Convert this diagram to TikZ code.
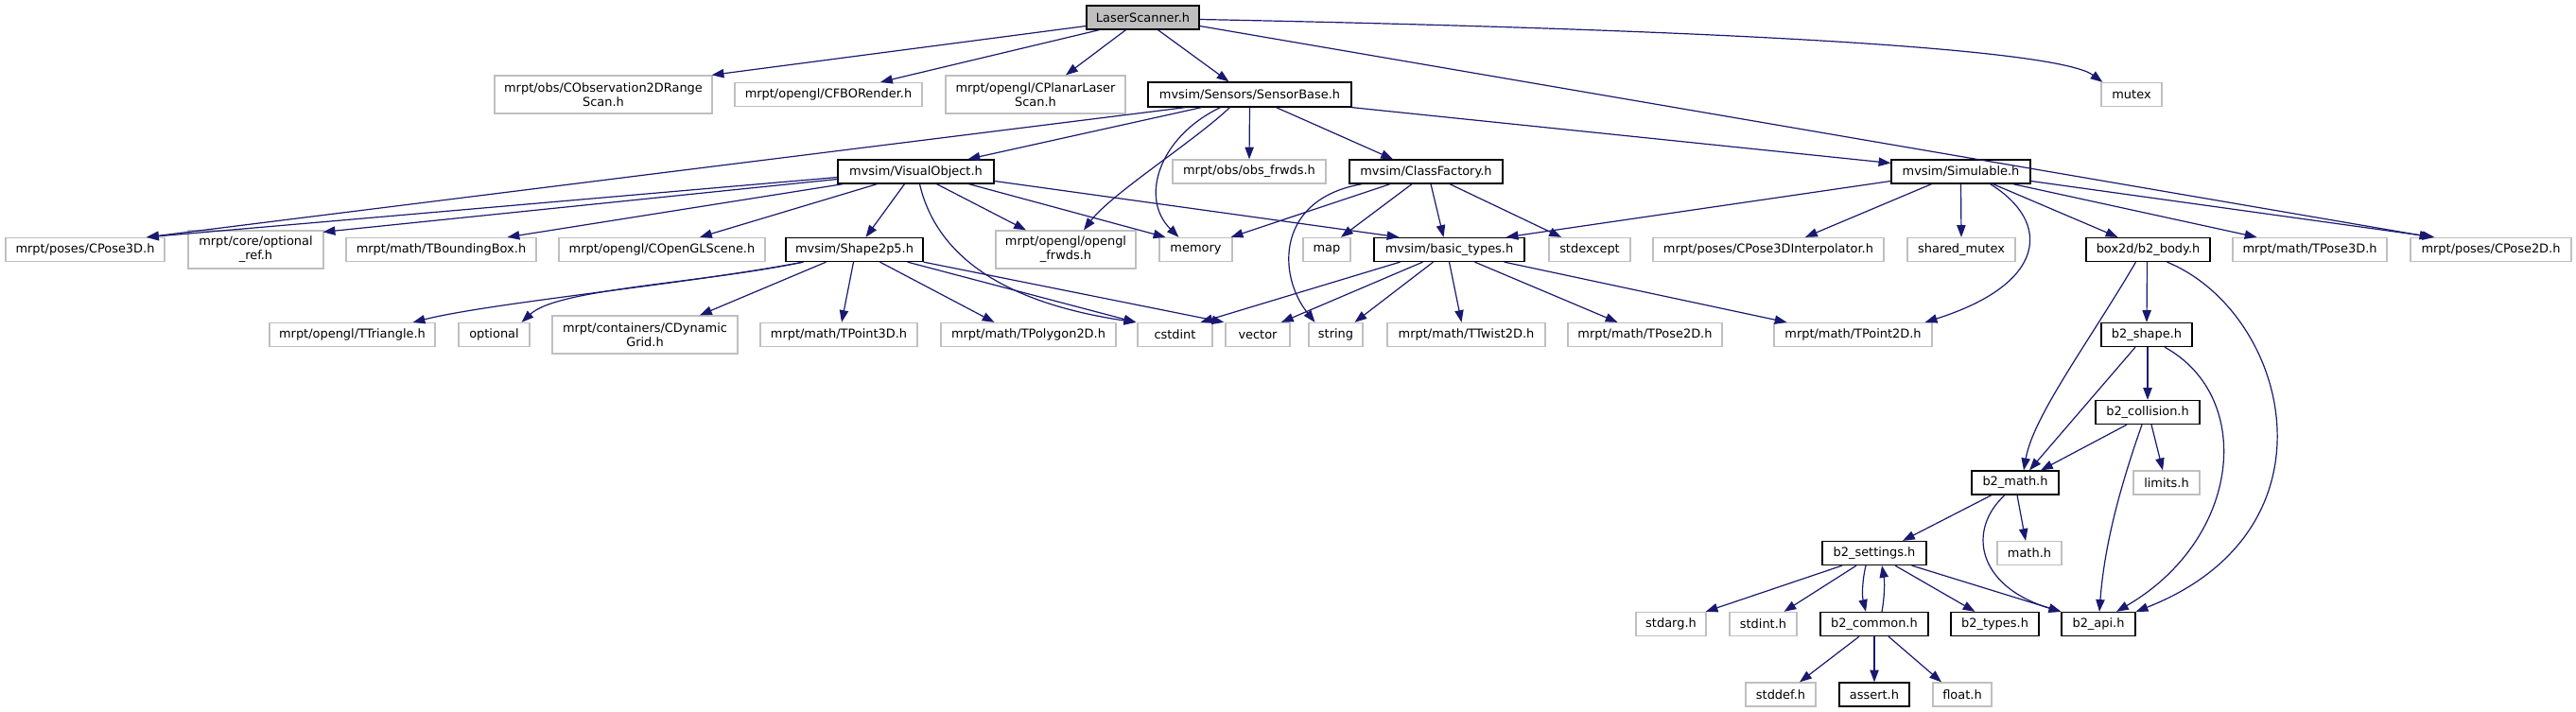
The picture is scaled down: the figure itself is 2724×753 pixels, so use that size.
\documentclass[tikz,border=0pt]{standalone}
\usepackage{fontspec}
\setmainfont{DejaVu Sans}
\usetikzlibrary{arrows.meta,calc}
\definecolor{edgeblue}{HTML}{191970}
\definecolor{greyline}{HTML}{BFBFBF}
\begin{document}
\begin{tikzpicture}[x=0.75pt,y=-0.75pt,
  nb/.style n args={2}{rectangle, inner sep=0pt, minimum width=#1*0.75pt, minimum height=#2*0.75pt,
     align=center, font=\fontsize{9.7}{11.3}\selectfont, line width=0.95pt},
  ext/.style 2 args={nb={#1}{#2}, draw=greyline},
  doc/.style 2 args={nb={#1}{#2}, draw=black},
  root/.style 2 args={nb={#1}{#2}, draw=black, fill=greyline},
  dep/.style={draw=edgeblue, line width=0.9pt, -{Triangle[length=9.6pt,width=7pt]}}]
\useasboundingbox (0,0) rectangle (2724,753);
% rank 0
\node[root={119}{25}] (LS) at (1208.5,18.5) {LaserScanner.h};
% rank 1
\node[ext={230}{40}] (CObs) at (638,100) {mrpt/obs/CObservation2DRange\\Scan.h};
\node[ext={198}{25}] (CFBO) at (876,100) {mrpt/opengl/CFBORender.h};
\node[ext={190}{40}] (CPlanar) at (1095,100) {mrpt/opengl/CPlanarLaser\\Scan.h};
\node[doc={215}{26}] (SB) at (1321.5,100) {mvsim/Sensors/SensorBase.h};
\node[ext={64}{25}] (MUTEX) at (2254,100) {mutex};
% rank 2
\node[doc={165}{25}] (VO) at (968.5,181.5) {mvsim/VisualObject.h};
\node[ext={162}{25}] (OBSF) at (1321,181.5) {mrpt/obs/obs\_frwds.h};
\node[doc={162}{25}] (CF) at (1508,181.5) {mvsim/ClassFactory.h};
\node[doc={147}{25}] (SIM) at (2073.5,181.5) {mvsim/Simulable.h};
% rank 3
\node[ext={168}{25}] (CP3) at (90,264) {mrpt/poses/CPose3D.h};
\node[ext={143}{40}] (OPTR) at (270.5,264) {mrpt/core/optional\\\_ref.h};
\node[ext={201}{25}] (TBB) at (466.5,264) {mrpt/math/TBoundingBox.h};
\node[ext={218}{25}] (COGL) at (700,264) {mrpt/opengl/COpenGLScene.h};
\node[doc={145}{25}] (SH) at (903.5,264) {mvsim/Shape2p5.h};
\node[ext={148}{40}] (OGLF) at (1127,264) {mrpt/opengl/opengl\\\_frwds.h};
\node[ext={77}{25}] (MEM) at (1264.5,264) {memory};
\node[ext={50}{25}] (MAP) at (1403,264) {map};
\node[doc={159}{25}] (BT) at (1532.5,264) {mvsim/basic\_types.h};
\node[ext={86}{25}] (SEX) at (1681,264) {stdexcept};
\node[ext={244}{25}] (CP3I) at (1870,264) {mrpt/poses/CPose3DInterpolator.h};
\node[ext={114}{25}] (SHM) at (2074,264) {shared\_mutex};
\node[doc={131}{25}] (BODY) at (2271.5,264) {box2d/b2\_body.h};
\node[ext={163}{25}] (TP3) at (2442.5,264) {mrpt/math/TPose3D.h};
\node[ext={170}{25}] (CP2) at (2634,264) {mrpt/poses/CPose2D.h};
% rank 4
\node[ext={175}{25}] (TTRI) at (372.5,354) {mrpt/opengl/TTriangle.h};
\node[ext={75}{25}] (OPT) at (522.5,354) {optional};
\node[ext={196}{40}] (CDG) at (682,354) {mrpt/containers/CDynamic\\Grid.h};
\node[ext={166}{25}] (TPT3) at (887,354) {mrpt/math/TPoint3D.h};
\node[ext={185}{25}] (TPOLY) at (1087.5,354) {mrpt/math/TPolygon2D.h};
\node[ext={79}{25}] (CSTD) at (1242.5,354) {cstdint};
\node[ext={68}{25}] (VEC) at (1330,354) {vector};
\node[ext={57}{25}] (STR) at (1412.5,354) {string};
\node[ext={167}{25}] (TTW) at (1550.5,354) {mrpt/math/TTwist2D.h};
\node[ext={163}{25}] (TP2) at (1739.5,354) {mrpt/math/TPose2D.h};
\node[ext={167}{25}] (TPT2) at (1959.5,354) {mrpt/math/TPoint2D.h};
\node[doc={96}{25}] (SHAPE) at (2270,354) {b2\_shape.h};
% rank 5-9
\node[doc={110}{25}] (COLL) at (2271,436) {b2\_collision.h};
\node[doc={92}{25}] (MATH) at (2131,510.5) {b2\_math.h};
\node[ext={70}{25}] (LIM) at (2291,510.5) {limits.h};
\node[doc={110}{25}] (SET) at (1982,585) {b2\_settings.h};
\node[ext={68}{25}] (MATHH) at (2146,585) {math.h};
\node[ext={74}{25}] (STDARG) at (1767,660) {stdarg.h};
\node[ext={71}{25}] (STDINT) at (1864.5,660) {stdint.h};
\node[doc={114}{25}] (COMMON) at (1982,660) {b2\_common.h};
\node[doc={93}{25}] (TYPES) at (2109.5,660) {b2\_types.h};
\node[doc={78}{25}] (API) at (2219,660) {b2\_api.h};
\node[ext={74}{25}] (STDDEF) at (1883,734.5) {stddef.h};
\node[doc={74}{25}] (ASSERT) at (1982,734.5) {assert.h};
\node[ext={62}{25}] (FLOAT) at (2075,734.5) {float.h};
% edges from LaserScanner
\draw[dep] ($(LS.west)+(0,9)$) -- ($(CObs.north east)+(-1,0)$);
\draw[dep] ($(LS.south)+(-46,0)$) -- ($(CFBO.north)+(55,0)$);
\draw[dep] ($(LS.south)+(-18,0)$) -- ($(CPlanar.north)+(32,0)$);
\draw[dep] ($(LS.south)+(16,0)$) -- ($(SB.north)+(-22,0)$);
\draw[dep] ($(LS.east)+(0,2)$) .. controls (1900,33) and (2180,55) .. ($(MUTEX.north west)+(2,0)$);
\draw[dep] ($(LS.east)+(0,9)$) -- ($(CP2.north west)+(23,0)$);
% SensorBase
\draw[dep] ($(SB.south)+(-68,0)$) -- ($(CP3.north)+(65,0)$);
\draw[dep] ($(SB.south)+(-51,0)$) -- ($(VO.north)+(55,0)$);
\draw[dep] ($(SB.south)+(-21,0)$) .. controls (1262,150) and (1175,205) .. ($(OGLF.north)+(19,0)$);
\draw[dep] ($(SB.south)+(-31,0)$) .. controls (1225,145) and (1205,210) .. ($(MEM.north)+(-18,0)$);
\draw[dep] (SB.south) -- (OBSF.north);
\draw[dep] ($(SB.south)+(28,0)$) -- ($(CF.north)+(-35,0)$);
\draw[dep] (SB.south east) -- ($(SIM.west)+(0,-9)$);
% VisualObject
\draw[dep] ($(VO.west)+(0,6)$) -- ($(CP3.north)+(65,0)$);
\draw[dep] ($(VO.west)+(0,8)$) -- ($(OPTR.north east)+(-1,2)$);
\draw[dep] ($(VO.south west)+(6,0)$) -- ($(TBB.north)+(70,0)$);
\draw[dep] ($(VO.south)+(-41,0)$) -- ($(COGL.north)+(40,0)$);
\draw[dep] ($(VO.south)+(-12,0)$) -- ($(SH.north)+(12,0)$);
\draw[dep] ($(VO.south)+(4,0)$) .. controls (990,270) and (1060,320) .. ($(CSTD.north west)+(-1,0)$);
\draw[dep] ($(VO.south)+(22,0)$) -- ($(OGLF.north)+(-42,0)$);
\draw[dep] ($(VO.south)+(56,0)$) -- ($(MEM.north)+(-32,0)$);
\draw[dep] ($(VO.east)+(0,10)$) -- ($(BT.north)+(-53,0)$);
% ClassFactory
\draw[dep] ($(CF.south west)+(14,0)$) .. controls (1350,210) and (1350,290) .. ($(STR.north)+(-22,0)$);
\draw[dep] ($(CF.south)+(-38,0)$) -- ($(MEM.north east)+(-2,0)$);
\draw[dep] ($(CF.south)+(-15,0)$) -- ($(MAP.north)+(15,0)$);
\draw[dep] ($(CF.south)+(5,0)$) -- ($(BT.north)+(-6,0)$);
\draw[dep] ($(CF.south)+(25,0)$) -- ($(SEX.north)+(-30,0)$);
% Simulable
\draw[dep] ($(SIM.west)+(0,10)$) -- ($(BT.north east)+(-20,0)$);
\draw[dep] ($(SIM.south)+(-31,0)$) -- ($(CP3I.north)+(39,0)$);
\draw[dep] (SIM.south) -- (SHM.north);
\draw[dep] ($(SIM.south)+(31,0)$) .. controls (2170,235) and (2165,300) .. ($(TPT2.north east)+(-8,0)$);
\draw[dep] ($(SIM.south)+(34,0)$) -- ($(BODY.north)+(-32,0)$);
\draw[dep] ($(SIM.south east)+(-19,0)$) -- ($(TP3.north)+(-56,0)$);
\draw[dep] ($(SIM.east)+(0,10)$) -- ($(CP2.north west)+(26,0)$);
% Shape2p5
\draw[dep] ($(SH.south west)+(19,0)$) .. controls (730,300) and (520,320) .. ($(TTRI.north east)+(-24,0)$);
\draw[dep] ($(SH.south west)+(19,0)$) .. controls (740,300) and (590,305) .. ($(OPT.north east)+(-9,0)$);
\draw[dep] ($(SH.south)+(-30,0)$) -- ($(CDG.north)+(58,0)$);
\draw[dep] ($(SH.south)+(-1,0)$) -- ($(TPT3.north)+(3,0)$);
\draw[dep] ($(SH.south)+(27,0)$) -- ($(TPOLY.north)+(-36,0)$);
\draw[dep] ($(SH.south east)+(-17,0)$) -- ($(CSTD.north west)+(-1,0)$);
\draw[dep] (SH.south east) -- ($(VEC.north west)+(-1,0)$);
% basic_types
\draw[dep] ($(BT.south)+(-52,0)$) -- ($(CSTD.north)+(27,0)$);
\draw[dep] ($(BT.south)+(-28,0)$) -- ($(VEC.north)+(25,0)$);
\draw[dep] ($(BT.south)+(-17,0)$) -- ($(STR.north)+(20,0)$);
\draw[dep] (BT.south) -- ($(TTW.north)+(-5,0)$);
\draw[dep] ($(BT.south)+(27,0)$) -- ($(TP2.north)+(-29,0)$);
\draw[dep] ($(BT.south east)+(-22,0)$) -- ($(TPT2.north)+(-70,0)$);
% box2d
\draw[dep] ($(BODY.south)+(-1,0)$) -- (SHAPE.north);
\draw[dep] ($(BODY.south)+(-13,0)$) .. controls (2210,360) and (2150,440) .. ($(MATH.north)+(9,0)$);
\draw[dep] ($(BODY.south)+(20,0)$) .. controls (2420,330) and (2480,560) .. (API.north east);
\draw[dep] ($(SHAPE.south)+(1,0)$) -- (COLL.north);
\draw[dep] ($(SHAPE.south)+(-12,0)$) -- ($(MATH.north)+(15,0)$);
\draw[dep] ($(SHAPE.south)+(19,0)$) .. controls (2385,420) and (2370,570) .. ($(API.north)+(19,0)$);
\draw[dep] ($(COLL.south)+(-22,0)$) -- ($(MATH.north)+(27,0)$);
\draw[dep] ($(COLL.south)+(-6,0)$) .. controls (2240,520) and (2225,580) .. ($(API.north)+(1,0)$);
\draw[dep] ($(COLL.south)+(4,0)$) -- ($(LIM.north)+(-4,0)$);
\draw[dep] ($(MATH.south)+(-25,0)$) -- ($(SET.north)+(30,0)$);
\draw[dep] ($(MATH.south)+(2,0)$) -- ($(MATHH.north)+(-4,0)$);
\draw[dep] ($(MATH.south)+(-11,0)$) .. controls (2080,560) and (2090,620) .. (API.north west);
\draw[dep] ($(SET.south)+(-34,0)$) -- ($(STDARG.north east)+(-1,0)$);
\draw[dep] ($(SET.south)+(-19,0)$) -- ($(STDINT.north)+(22,0)$);
\draw[dep] ($(SET.south)+(-9,0)$) .. controls (1969,615) and (1969,630) .. ($(COMMON.north)+(-9,0)$);
\draw[dep] ($(SET.south)+(22,0)$) -- ($(TYPES.north)+(-21,0)$);
\draw[dep] ($(SET.south east)+(-16,0)$) -- (API.north west);
\draw[dep] ($(COMMON.north)+(8,0)$) .. controls (1993,630) and (1993,615) .. ($(SET.south)+(8,0)$);
\draw[dep] ($(COMMON.south)+(-16,0)$) -- ($(STDDEF.north)+(20,0)$);
\draw[dep] (COMMON.south) -- (ASSERT.north);
\draw[dep] ($(COMMON.south)+(15,0)$) -- ($(FLOAT.north)+(-22,0)$);
\end{tikzpicture}
\end{document}
